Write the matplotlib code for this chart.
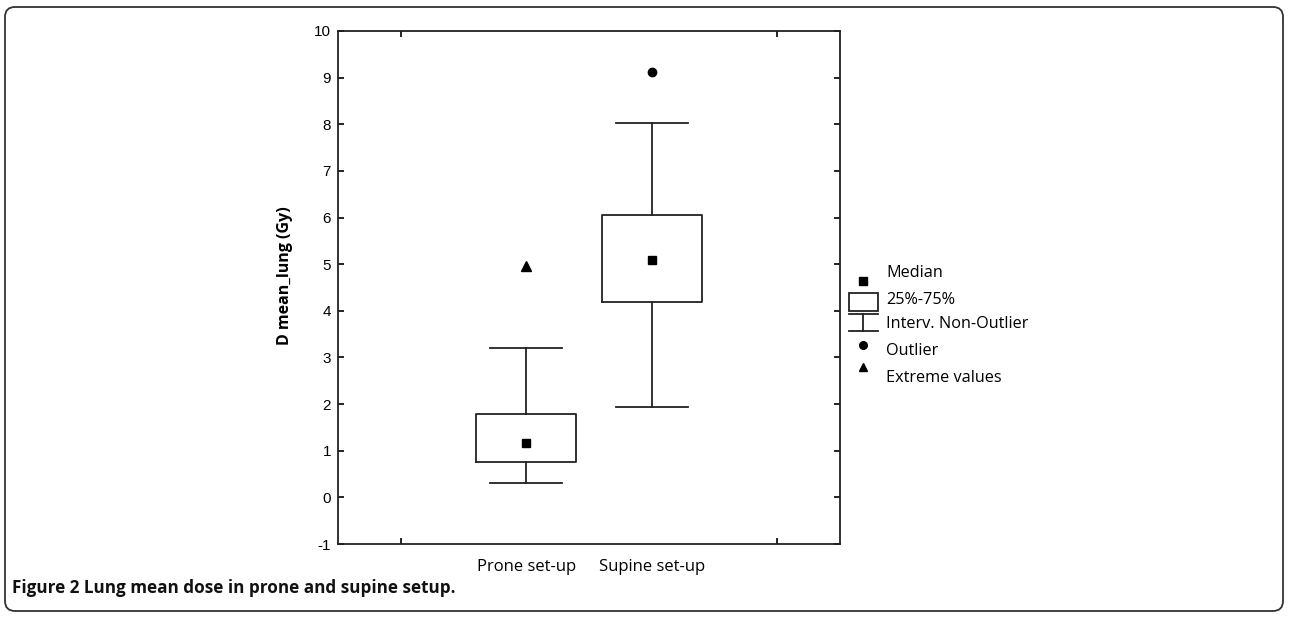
import numpy as np
import matplotlib.pyplot as plt
from matplotlib.patches import FancyBboxPatch, Rectangle

plt.rcParams["axes.unicode_minus"] = False

# values
groups = ["Prone set-up", "Supine set-up"]
q1 = [0.75, 4.18]
q3 = [1.78, 6.05]
median = [1.16, 5.09]
whis_lo = [0.30, 1.93]
whis_hi = [3.20, 8.03]
outliers = [[], [9.12]]
extremes = [[4.96], []]

pos = [1, 2]

fig = plt.figure(figsize=(12.9, 6.17), dpi=100)
ax = fig.add_axes([338/1290, 1-544/617, 502/1290, 513/617])

stats = []
for i in range(len(groups)):
    stats.append(dict(med=median[i], q1=q1[i], q3=q3[i], whislo=whis_lo[i],
                      whishi=whis_hi[i], fliers=[], label=groups[i]))
ax.bxp(stats, positions=pos, widths=0.8, showfliers=False, manage_ticks=False,
       boxprops=dict(color="#222222", lw=1.3),
       whiskerprops=dict(color="#222222", lw=1.3),
       capprops=dict(color="#222222", lw=1.3),
       medianprops=dict(visible=False), capwidths=0.57)

ax.plot(pos, median, "s", color="black", ms=5.5, zorder=5)
for i in range(len(groups)):
    if outliers[i]:
        ax.plot([pos[i]]*len(outliers[i]), outliers[i], "o", color="black", ms=6, zorder=5)
    if extremes[i]:
        ax.plot([pos[i]]*len(extremes[i]), extremes[i], "^", color="black", ms=6.5, zorder=5)

ax.set_xlim(-0.5, 3.5)
ax.set_ylim(-1, 10)
ax.set_yticks(range(-1, 11))
ax.set_xticks([0, 3])
ax.set_xticklabels(["", ""])
ax.set_xticks(pos, minor=True)
ax.set_xticklabels(groups, minor=True, family="Open Sans", fontsize=12)
ax.tick_params(axis="x", which="minor", length=0, pad=11)
for lab in ax.get_yticklabels():
    lab.set_family("Liberation Sans")
    lab.set_fontsize(11)
ax.tick_params(which="major", direction="in", length=4, width=1.2, top=True, right=True, pad=5)
for s in ax.spines.values():
    s.set_linewidth(1.3)
    s.set_color("#222222")
ax.set_ylabel("D mean_lung (Gy)", family="Open Sans", fontsize=11.5, fontweight="bold")
ax.yaxis.set_label_coords(-0.09, 0.524)

# legend, drawn in pixel coordinates
lg = fig.add_axes([0, 0, 1, 1], facecolor="none")
lg.set_xlim(0, 1290)
lg.set_ylim(617, 0)
lg.axis("off")
lg.plot(863, 281, "s", color="black", ms=5.5)
lg.add_patch(Rectangle((849, 293), 29, 18, fill=False, lw=1.3, ec="#222222"))
lg.plot([849, 878], [314, 314], color="#222222", lw=1.3)
lg.plot([863, 863], [314, 331], color="#222222", lw=1.3)
lg.plot([849, 878], [331, 331], color="#222222", lw=1.3)
lg.plot(863, 345, "o", color="black", ms=5.5)
lg.plot(863, 367, "^", color="black", ms=6)
leg_text = ["Median", "25%-75%", "Interv. Non-Outlier", "Outlier", "Extreme values"]
leg_y = [273, 300, 324, 351, 378]
for t, yy in zip(leg_text, leg_y):
    lg.text(886, yy, t, family="Open Sans", fontsize=11.7, va="center", ha="left")

# frame and caption
lg.add_patch(FancyBboxPatch((5, 7), 1278, 604, boxstyle="round,pad=0,rounding_size=10",
                            fill=False, lw=1.3, ec="#333333"))
lg.text(12, 588, "Figure 2 Lung mean dose in prone and supine setup.", family="Open Sans",
        fontsize=12.3, fontweight="bold", color="#111111", va="center")

fig.savefig("out.png", dpi=100)
